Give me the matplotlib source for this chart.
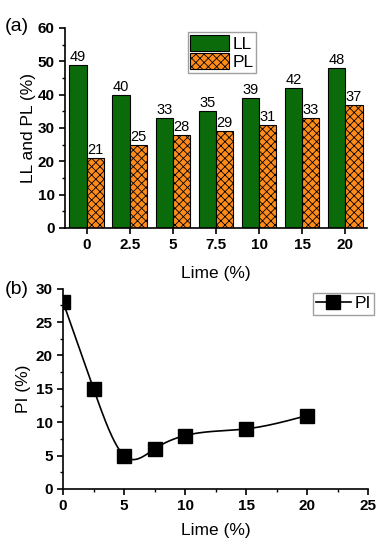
import numpy as np
import matplotlib
matplotlib.use("Agg")
import matplotlib.pyplot as plt
from matplotlib.ticker import MultipleLocator

plt.rcParams['font.family'] = ['Liberation Sans', 'DejaVu Sans']
plt.rcParams['hatch.linewidth'] = 0.6

# data
lime_labels = ['0', '2.5', '5', '7.5', '10', '15', '20']
ll = [49, 40, 33, 35, 39, 42, 48]
pl = [21, 25, 28, 29, 31, 33, 37]
lime = [0, 2.5, 5, 7.5, 10, 15, 20]
pi = [28, 15, 5, 6, 8, 9, 11]


def natural_spline(x, y, n=300):
    # natural cubic spline through the measured points (for the smooth line)
    x = np.asarray(x, float)
    y = np.asarray(y, float)
    k = len(x)
    h = np.diff(x)
    A = np.zeros((k, k))
    r = np.zeros(k)
    A[0, 0] = A[-1, -1] = 1
    for i in range(1, k - 1):
        A[i, i - 1] = h[i - 1]
        A[i, i] = 2 * (h[i - 1] + h[i])
        A[i, i + 1] = h[i]
        r[i] = 6 * ((y[i + 1] - y[i]) / h[i] - (y[i] - y[i - 1]) / h[i - 1])
    m = np.linalg.solve(A, r)
    xs = np.linspace(x[0], x[-1], n)
    j = np.clip(np.searchsorted(x, xs) - 1, 0, k - 2)
    t = xs - x[j]
    hj = h[j]
    ys = (m[j] * (x[j + 1] - xs) ** 3 / (6 * hj) + m[j + 1] * t ** 3 / (6 * hj)
          + (y[j] / hj - m[j] * hj / 6) * (x[j + 1] - xs)
          + (y[j + 1] / hj - m[j + 1] * hj / 6) * t)
    return xs, ys


fig = plt.figure(figsize=(3.87, 5.5), dpi=100)

# (a) bar chart
ax1 = fig.add_axes([0.168, 0.5855, 0.780, 0.3636])
pos = np.arange(len(lime_labels))
w = 0.4
b1 = ax1.bar(pos - w / 2, ll, w, color='#0b6b0b', edgecolor='black', linewidth=0.8, label='LL')
b2 = ax1.bar(pos + w / 2, pl, w, color='#ff8c1a', edgecolor='black', linewidth=0.8,
             hatch='xxxx', label='PL')
for rect, v in zip(list(b1) + list(b2), ll + pl):
    ax1.text(rect.get_x() + rect.get_width() / 2, v + 0.3, str(v),
             ha='center', va='bottom', fontsize=10.5)
ax1.set_xlim(-0.5, 6.5)
ax1.set_ylim(0, 60)
ax1.set_xticks(pos)
ax1.set_xticklabels(lime_labels)
ax1.yaxis.set_major_locator(MultipleLocator(10))
ax1.yaxis.set_minor_locator(MultipleLocator(5))
ax1.set_xlabel('Lime (%)', fontsize=12.5, labelpad=10)
ax1.set_ylabel('LL and PL (%)', fontsize=12.5, labelpad=1)
ax1.legend(loc='upper left', bbox_to_anchor=(0.407, 0.98), fontsize=12.5, frameon=True,
           fancybox=False, edgecolor='#888888', handlelength=2.2, handleheight=1.1,
           handletextpad=0.2, borderpad=0.15, labelspacing=0.05, borderaxespad=0)
fig.text(0.012, 0.952, '(a)', fontsize=14, va='center', ha='left')

# (b) line chart
ax2 = fig.add_axes([0.163, 0.111, 0.788, 0.364])
xs, ys = natural_spline(lime, pi)
ax2.plot(xs, ys, color='black', linewidth=1.2)
ax2.plot(lime, pi, linestyle='none', marker='s', markersize=9.5, color='black')
ax2.plot([], [], color='black', marker='s', markersize=9.5, linewidth=1.2, label='PI')
ax2.set_xlim(0, 25)
ax2.set_ylim(0, 30)
ax2.xaxis.set_major_locator(MultipleLocator(5))
ax2.xaxis.set_minor_locator(MultipleLocator(2.5))
ax2.yaxis.set_major_locator(MultipleLocator(5))
ax2.yaxis.set_minor_locator(MultipleLocator(2.5))
ax2.set_xlabel('Lime (%)', fontsize=12.5, labelpad=7)
ax2.set_ylabel('PI (%)', fontsize=12.5, labelpad=3)
ax2.legend(loc='upper right', bbox_to_anchor=(1.02, 0.98), fontsize=12.5, frameon=True,
           fancybox=False, edgecolor='#888888', handlelength=2.0, handletextpad=0.2,
           borderpad=0.2, borderaxespad=0)
fig.text(0.012, 0.474, '(b)', fontsize=14, va='center', ha='left')

for ax in (ax1, ax2):
    ax.spines['top'].set_visible(False)
    ax.spines['right'].set_visible(False)
    for s in ('left', 'bottom'):
        ax.spines[s].set_linewidth(1.2)
    ax.tick_params(which='major', direction='out', length=4, width=1.2, labelsize=11)
    ax.tick_params(which='minor', direction='out', length=2, width=1)
    for lab in ax.get_xticklabels() + ax.get_yticklabels():
        lab.set_fontweight('bold')

fig.savefig('out.png', dpi=100)
